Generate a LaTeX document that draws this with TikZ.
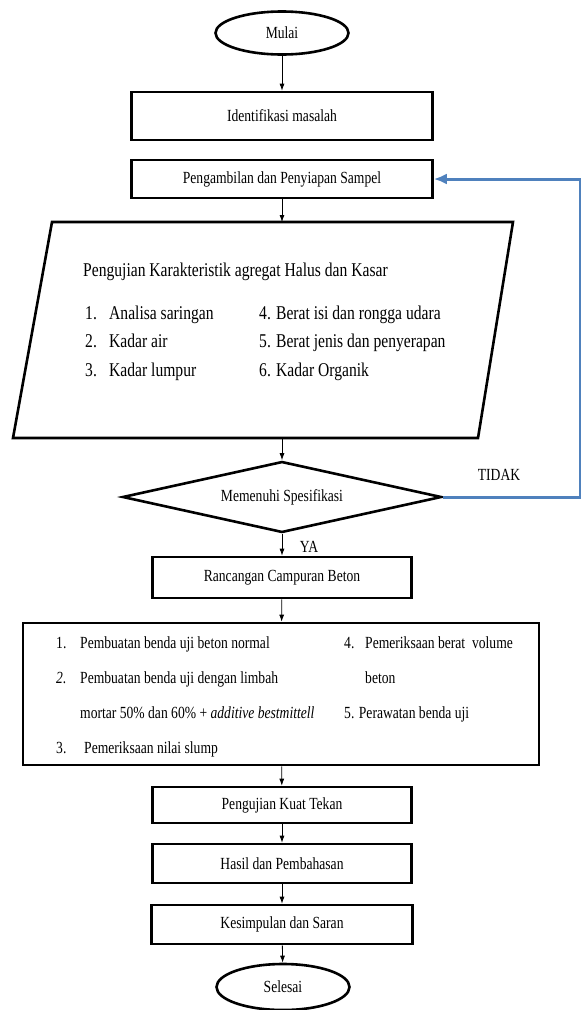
\documentclass[tikz,border=0pt]{standalone}
\usepackage{fontspec}
\setmainfont{Liberation Serif}[FakeStretch=0.8]
\usetikzlibrary{arrows.meta, shapes.geometric, positioning}
\definecolor{biruloop}{RGB}{79,129,189}
\newcommand{\ukuran}{\fontsize{17}{20}\selectfont}
\newcommand{\ukuranbesar}{\fontsize{19.5}{22}\selectfont}

\begin{document}
\begin{tikzpicture}[x=1pt, y=-1pt,
  kotak/.style={draw, line width=2.6pt, minimum width=259pt, minimum height=39pt, inner sep=2pt, font=\ukuran},
  oval/.style={ellipse, draw, line width=2.6pt, minimum width=133pt, minimum height=43pt, inner sep=0pt, font=\ukuran},
  panah/.style={-{Latex[length=7pt,width=5pt]}, line width=0.8pt},
  isi/.style={anchor=west, inner sep=0pt, text height=11pt, text depth=3.5pt, font=\ukuran},
  isibesar/.style={isi, text height=12.5pt, text depth=4pt, font=\ukuranbesar}]
  \useasboundingbox (0,0) rectangle (581,1010);
  % start, problem, sample
  \node[oval] (mulai) at (282,33) {Mulai};
  \node[kotak, minimum width=301pt, minimum height=48pt] (ident) at (282,116) {Identifikasi masalah};
  \node[kotak, minimum width=301pt, minimum height=38pt] (ambil) at (282,179) {Pengambilan dan Penyiapan Sampel};
  % aggregate tests (parallelogram)
  \draw[line width=2.6pt] (52,222) -- (513,222) -- (478,438) -- (13,438) -- cycle;
  \coordinate (agr-atas) at (282,222);
  \coordinate (agr-bawah) at (282,438);
  \node[isibesar] (agr-judul) at (83,272) {Pengujian Karakteristik agregat Halus dan Kasar};
  \foreach \no/\teks/\yy in {1/Analisa saringan/315, 2/Kadar air/343, 3/Kadar lumpur/372} {
    \node[isibesar] (agr-n\no) at (85,\yy) {\no.};
    \node[isibesar] (agr-t\no) at (109,\yy) {\teks};
  }
  \node[isibesar] (agr-t4) at (259,315) {4. Berat isi dan rongga udara};
  \node[isibesar] (agr-t5) at (259,343) {5. Berat jenis dan penyerapan};
  \node[isibesar] (agr-t6) at (259,372) {6. Kadar Organik};
  % decision
  \node[diamond, draw, aspect=4.5, line width=2.6pt, minimum width=319pt, minimum height=71pt,
    inner sep=0pt, font=\ukuran] (spek) at (282,497) {Memenuhi Spesifikasi};
  \node[font=\ukuran] (tidak) at (499,475) {TIDAK};
  \node[font=\ukuran] (ya) at (309,547) {YA};
  \coordinate (tepi) at (580,0);
  % mix design and specimens
  \node[kotak, minimum height=41pt] (ranc) at (282,577.5) {Rancangan Campuran Beton};
  \node[draw, line width=2.6pt, minimum width=516pt, minimum height=142pt] (benda) at (281,694) {};
  \node[isi] (b-n1) at (56,645) {1.};
  \node[isi] (b-t1) at (80,645) {Pembuatan benda uji beton normal};
  \node[isi] (b-n2) at (56,680) {\itshape 2.};
  \node[isi] (b-t2) at (80,680) {Pembuatan benda uji dengan limbah};
  \node[isi] (b-t2b) at (80,715) {mortar 50\% dan 60\% + \textit{additive bestmittell}};
  \node[isi] (b-n3) at (56,750) {3.};
  \node[isi] (b-t3) at (84,750) {Pemeriksaan nilai slump};
  \node[isi] (b-n4) at (344,645) {4.};
  \node[isi] (b-t4) at (365,645) {Pemeriksaan berat\ \ volume};
  \node[isi] (b-t4b) at (365,680) {beton};
  \node[isi] (b-t5) at (344,715) {5. Perawatan benda uji};
  % testing to end
  \node[kotak, minimum height=36pt] (kuat) at (282,805) {Pengujian Kuat Tekan};
  \node[kotak] (hasil) at (282,863.5) {Hasil dan Pembahasan};
  \node[kotak, minimum width=261pt] (simpul) at (282,924.5) {Kesimpulan dan Saran};
  \node[oval, minimum height=46pt] (selesai) at (283,987) {Selesai};
  % flow
  \draw[panah] (mulai) -- (ident);
  \draw[panah] (ambil) -- (agr-atas);
  \draw[panah] (agr-bawah) -- (spek);
  \draw[panah] (spek) -- (ranc);
  \draw[panah] (ranc) -- (benda);
  \draw[panah] (benda) -- (kuat);
  \draw[panah] (kuat) -- (hasil);
  \draw[panah] (hasil) -- (simpul);
  \draw[panah] (simpul) -- (selesai);
  % back to sampling when not met
  \draw[biruloop, line width=3pt, -{Latex[length=13pt,width=11pt]}]
    (spek.east) -- (spek.east -| tepi) |- (ambil.east);
\end{tikzpicture}
\end{document}
